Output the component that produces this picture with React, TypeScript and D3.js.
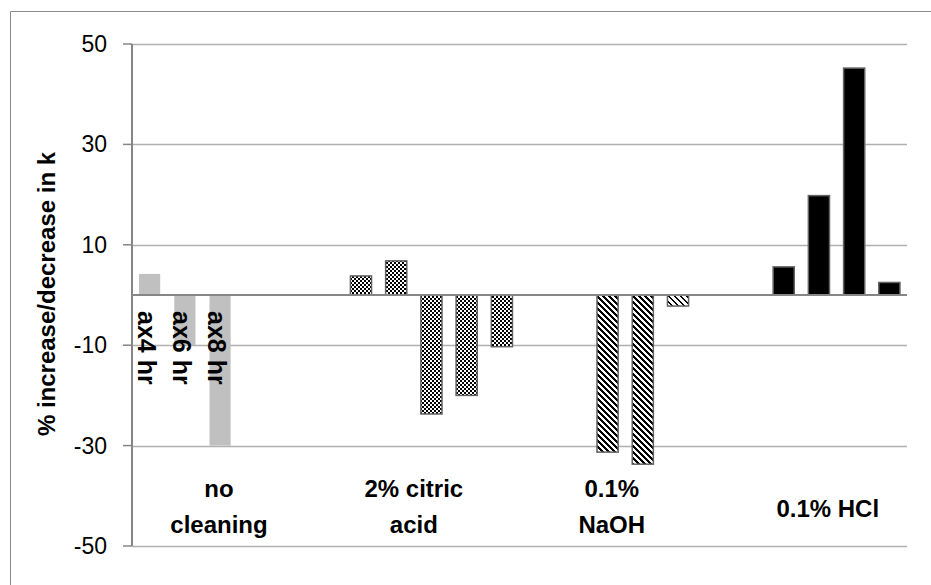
import React from 'react';
import * as d3 from 'd3';

// treatment groups, drawn as text under the bars
const groupLines = [['no', 'cleaning'], ['2% citric', 'acid'], ['0.1%', 'NaOH'], ['0.1% HCl']];

// % change in k, blank cells kept as null (they hold empty slots on the axis)
const noCleaning = [4.2, -10, -30, null, null, null];
const citricAcid = [3.8, 6.8, -23.7, -20, -10.3, null, null];
const naoh = [-31.3, -33.7, -2.2, null, null];
const hcl = [5.6, 19.8, 45.2, 2.5];

const timeLabels = ['ax4 hr', 'ax6 hr', 'ax8 hr'];
const yTicks = [-50, -30, -10, 10, 30, 50];

const W = 931;
const H = 585;
const plot = { left: 132, right: 907, top: 44, bottom: 546 };

// where each group label sits, in bar-slot units from the plot's left edge
const labelSlot = [2.47, 8.0, 13.62, 19.75];

const FONT = '"Liberation Sans", Arial, sans-serif';

const App: React.FC = () => {
  const series = [noCleaning, citricAcid, naoh, hcl];
  const slots = series.flatMap((vals, g) => vals.map((v, i) => ({ g, i, v })));

  const x = d3.scaleBand<number>()
    .domain(slots.map((_, k) => k))
    .range([plot.left, plot.right])
    .paddingInner(0.4)
    .paddingOuter(0.2);

  const y = d3.scaleLinear().domain([-50, 50]).range([plot.bottom, plot.top]);

  const groupFill = ['#c0c0c0', 'url(#checker)', 'url(#diag)', '#000'];
  const fillFor = (g: number, i: number) => (g === 2 && i === 2 ? 'url(#diagLight)' : groupFill[g]);

  // pixel tiles for the excel-ish patterns
  const checkerCells: [number, number][] = [[0, 0], [1, 1]];
  const diagCells = (band: number) => {
    const cells: [number, number][] = [];
    for (let py = 0; py < 6; py++)
      for (let px = 0; px < 6; px++)
        if (((px - py) % 6 + 6) % 6 < band) cells.push([px, py]);
    return cells;
  };

  return (
    <svg
      width={W}
      height={H}
      style={{ position: 'absolute', left: 0, top: 0, background: '#fff' }}
      fontFamily={FONT}
    >
      <defs>
        <pattern id="checker" width={4} height={4} patternUnits="userSpaceOnUse">
          <rect width={4} height={4} fill="#fff" />
          {checkerCells.map(([cx, cy], k) => (
            <rect key={k} x={cx * 2} y={cy * 2} width={2} height={2} fill="#000" />
          ))}
        </pattern>
        <pattern id="diag" width={6} height={6} patternUnits="userSpaceOnUse">
          <rect width={6} height={6} fill="#fff" />
          {diagCells(3).map(([px, py], k) => (
            <rect key={k} x={px} y={py} width={1} height={1} fill="#000" />
          ))}
        </pattern>
        <pattern id="diagLight" width={6} height={6} patternUnits="userSpaceOnUse">
          <rect width={6} height={6} fill="#fff" />
          {diagCells(2).map(([px, py], k) => (
            <rect key={k} x={px} y={py} width={1} height={1} fill="#000" />
          ))}
        </pattern>
      </defs>

      {/* chart area border (only top and left show in the crop) */}
      <path d={`M10.5,${H} V11.5 H${W}`} fill="none" stroke="#8c8c8c" strokeWidth={1} />

      {/* gridlines */}
      {yTicks.map(t => (
        <line
          key={t}
          x1={plot.left}
          x2={plot.right}
          y1={Math.round(y(t)) + 0.5}
          y2={Math.round(y(t)) + 0.5}
          stroke="#b0b0b0"
          strokeWidth={1.5}
        />
      ))}

      {/* bars */}
      {slots.map((s, k) => {
        if (s.v === null) return null;
        const y0 = y(0);
        const y1 = y(s.v);
        const hasStroke = s.g !== 0;
        return (
          <rect
            key={k}
            x={x(k)}
            y={Math.min(y0, y1)}
            width={x.bandwidth()}
            height={Math.abs(y1 - y0)}
            fill={fillFor(s.g, s.i)}
            stroke={hasStroke ? '#636363' : 'none'}
            strokeWidth={hasStroke ? 1.5 : 0}
          />
        );
      })}

      {/* zero line */}
      <line x1={plot.left} x2={plot.right} y1={y(0)} y2={y(0)} stroke="#868686" strokeWidth={2} />

      {/* y axis */}
      <line x1={plot.left} x2={plot.left} y1={plot.top} y2={plot.bottom} stroke="#868686" strokeWidth={2} />
      {yTicks.map(t => (
        <g key={t} transform={`translate(0,${y(t)})`}>
          <line x1={plot.left - 9} x2={plot.left} stroke="#868686" strokeWidth={1.5} />
          <text x={107} dy="0.35em" textAnchor="end" fontSize={23} fill="#000">
            {t}
          </text>
        </g>
      ))}

      {/* axis title */}
      <text
        transform={`translate(55,${(plot.top + plot.bottom) / 2 - 1}) rotate(-90)`}
        textAnchor="middle"
        fontSize={24}
        fontWeight="bold"
        fill="#000"
      >
        % increase/decrease in k
      </text>

      {/* time labels on the no-cleaning bars */}
      {timeLabels.map((lab, i) => (
        <text
          key={lab}
          transform={`translate(${(x(i) as number) + x.bandwidth() / 2},${y(0) + 16}) rotate(90)`}
          y={12}
          fontSize={25}
          fontWeight="bold"
          fill="#000"
        >
          {lab}
        </text>
      ))}

      {/* group labels */}
      {groupLines.map((lines, g) => {
        const cx = plot.left + x.step() * labelSlot[g];
        const base = lines.length === 1 ? 517 : 497;
        return (
          <text key={g} textAnchor="middle" fontSize={24} fontWeight="bold" fill="#000">
            {lines.map((ln, j) => (
              <tspan key={j} x={cx} y={base + j * 36}>
                {ln}
              </tspan>
            ))}
          </text>
        );
      })}
    </svg>
  );
};

export default App;
